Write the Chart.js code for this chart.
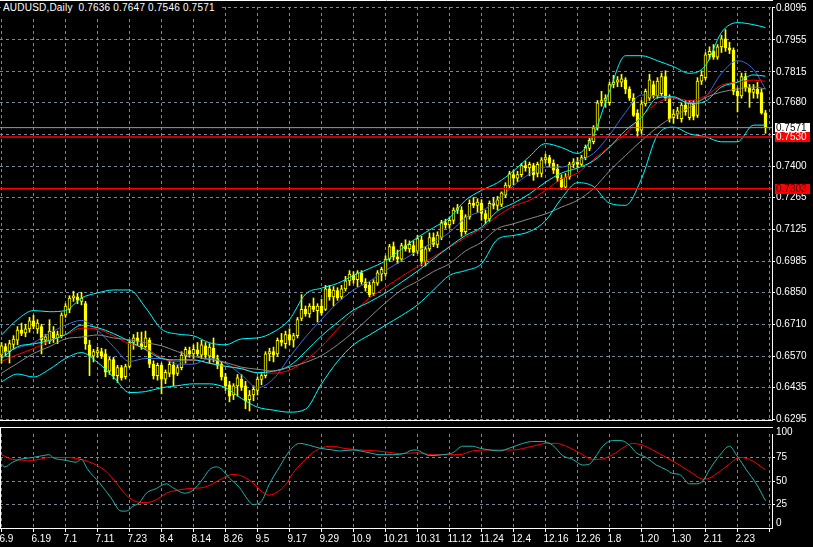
<!DOCTYPE html>
<html><head><meta charset="utf-8">
<script src="https://cdn.jsdelivr.net/npm/chart.js@4.4.1/dist/chart.umd.min.js"></script>
<style>
html,body{margin:0;padding:0;background:#000;width:813px;height:547px;overflow:hidden}
#wrap{position:relative;width:813px;height:547px;background:#000}
#main{position:absolute;left:0;top:0}
#stoch{position:absolute;left:0;top:427px}
#title{position:absolute;left:1px;top:1px;padding:1px 4px 3px 2px;background:#000;color:#fff;font:10px 'Liberation Sans',Arial,sans-serif;letter-spacing:0.2px;white-space:pre;line-height:12px}
</style></head><body>
<div id="wrap">
<canvas id="main" width="813" height="427" style="width:813px;height:427px"></canvas>
<canvas id="stoch" width="813" height="120" style="width:813px;height:120px"></canvas>
<div id="title"></div>
</div>
<script>
const symbolName = 'AUDUSD';
const timeframe = 'Daily';
const dateLabels = ['6.9','6.19','7.1','7.11','7.23','8.4','8.14','8.26','9.5','9.17','9.29','10.9','10.21','10.31','11.12','11.24','12.4','12.16','12.26','1.8','1.20','1.30','2.11','2.23'];
const gridBars = [0,8,16,24,32,40,48,56,64,72,80,88,96,104,112,120,128,136,144,152,160,168,176,184,192];
const priceTicks = [0.8095,0.7955,0.7815,0.7680,0.7540,0.7400,0.7265,0.7125,0.6985,0.6850,0.6710,0.6570,0.6435,0.6295];
const priceTickLabels = ['0.8095','0.7955','0.7815','0.7680','','0.7400','0.7265','0.7125','0.6985','0.6850','0.6710','0.6570','0.6435','0.6295'];
const stochTicks = [0,25,50,75,100];

const opens = [0.6575,0.6612,0.6590,0.6622,0.6640,0.6685,0.6672,0.6690,0.6725,0.6690,0.6700,0.6640,0.6635,0.6680,0.6650,0.6660,0.6750,0.6775,0.6825,0.6830,
0.6810,0.6800,0.6620,0.6570,0.6585,0.6590,0.6580,0.6505,0.6555,0.6485,0.6520,0.6480,0.6525,0.6630,0.6650,0.6625,0.6612,0.6640,0.6535,0.6485,
0.6530,0.6470,0.6495,0.6530,0.6495,0.6520,0.6570,0.6595,0.6580,0.6598,0.6575,0.6615,0.6570,0.6605,0.6560,0.6535,0.6480,0.6445,0.6400,0.6440,
0.6470,0.6440,0.6380,0.6400,0.6420,0.6468,0.6485,0.6580,0.6590,0.6580,0.6640,0.6625,0.6665,0.6640,0.6660,0.6735,0.6775,0.6755,0.6790,0.6770,
0.6790,0.6775,0.6865,0.6830,0.6858,0.6830,0.6865,0.6900,0.6925,0.6905,0.6935,0.6895,0.6880,0.6845,0.6890,0.6930,0.6930,0.6995,0.7050,0.7005,
0.6995,0.7055,0.7040,0.7055,0.7030,0.7080,0.6985,0.7040,0.7090,0.7060,0.7090,0.7155,0.7145,0.7165,0.7210,0.7210,0.7115,0.7180,0.7240,0.7230,
0.7240,0.7195,0.7170,0.7240,0.7230,0.7235,0.7275,0.7315,0.7365,0.7350,0.7365,0.7405,0.7395,0.7405,0.7370,0.7370,0.7430,0.7440,0.7415,0.7390,
0.7350,0.7310,0.7355,0.7410,0.7420,0.7410,0.7440,0.7480,0.7510,0.7570,0.7680,0.7690,0.7680,0.7760,0.7770,0.7770,0.7780,0.7740,0.7700,0.7635,
0.7560,0.7675,0.7700,0.7760,0.7710,0.7720,0.7795,0.7700,0.7615,0.7630,0.7610,0.7670,0.7615,0.7675,0.7625,0.7775,0.7790,0.7890,0.7905,0.7880,
0.7925,0.7960,0.7920,0.7910,0.7730,0.7710,0.7795,0.7745,0.7725,0.7740,0.7725,0.7636];
const highs = [0.6630,0.6625,0.6640,0.6660,0.6700,0.6715,0.6710,0.6740,0.6750,0.6730,0.6710,0.6665,0.6730,0.6700,0.6680,0.6760,0.6800,0.6835,0.6855,0.6845,
0.6850,0.6810,0.6640,0.6600,0.6610,0.6605,0.6600,0.6565,0.6565,0.6530,0.6530,0.6535,0.6640,0.6665,0.6675,0.6676,0.6680,0.6650,0.6550,0.6540,
0.6540,0.6510,0.6550,0.6545,0.6530,0.6590,0.6610,0.6610,0.6620,0.6630,0.6640,0.6630,0.6625,0.6650,0.6575,0.6545,0.6495,0.6460,0.6450,0.6490,
0.6490,0.6460,0.6420,0.6440,0.6480,0.6500,0.6590,0.6605,0.6610,0.6650,0.6670,0.6680,0.6690,0.6670,0.6740,0.6840,0.6790,0.6800,0.6825,0.6800,
0.6820,0.6880,0.6880,0.6875,0.6870,0.6880,0.6920,0.6945,0.6940,0.6945,0.6945,0.6910,0.6895,0.6905,0.6945,0.6960,0.7010,0.7060,0.7070,0.7035,
0.7065,0.7080,0.7075,0.7075,0.7100,0.7095,0.7050,0.7110,0.7110,0.7115,0.7165,0.7170,0.7180,0.7220,0.7235,0.7225,0.7190,0.7255,0.7265,0.7260,
0.7255,0.7210,0.7250,0.7265,0.7270,0.7290,0.7330,0.7380,0.7385,0.7380,0.7415,0.7425,0.7420,0.7415,0.7420,0.7440,0.7455,0.7450,0.7430,0.7410,
0.7365,0.7370,0.7420,0.7435,0.7440,0.7450,0.7495,0.7525,0.7580,0.7690,0.7730,0.7715,0.7770,0.7800,0.7795,0.7805,0.7790,0.7750,0.7720,0.7650,
0.7690,0.7740,0.7805,0.7775,0.7790,0.7810,0.7820,0.7715,0.7650,0.7660,0.7680,0.7690,0.7690,0.7690,0.7790,0.7820,0.7900,0.7925,0.7935,0.7935,
0.7975,0.8000,0.7945,0.7920,0.7745,0.7810,0.7810,0.7760,0.7760,0.7770,0.7740,0.7647];
const lows = [0.6540,0.6570,0.6540,0.6600,0.6620,0.6660,0.6655,0.6675,0.6690,0.6670,0.6580,0.6620,0.6625,0.6630,0.6625,0.6650,0.6740,0.6760,0.6810,0.6800,
0.6795,0.6600,0.6485,0.6545,0.6565,0.6560,0.6480,0.6490,0.6470,0.6455,0.6465,0.6470,0.6520,0.6600,0.6620,0.6600,0.6600,0.6520,0.6470,0.6465,
0.6405,0.6450,0.6480,0.6440,0.6485,0.6510,0.6540,0.6565,0.6560,0.6570,0.6560,0.6560,0.6540,0.6545,0.6515,0.6465,0.6420,0.6370,0.6380,0.6395,
0.6420,0.6340,0.6330,0.6375,0.6400,0.6445,0.6475,0.6550,0.6545,0.6570,0.6615,0.6605,0.6620,0.6610,0.6650,0.6725,0.6745,0.6740,0.6765,0.6720,
0.6750,0.6770,0.6815,0.6790,0.6815,0.6820,0.6855,0.6880,0.6890,0.6875,0.6885,0.6855,0.6830,0.6835,0.6880,0.6900,0.6920,0.6985,0.6990,0.6975,
0.6985,0.7030,0.7025,0.7010,0.7020,0.6965,0.6965,0.7030,0.7050,0.7045,0.7080,0.7130,0.7130,0.7150,0.7195,0.7095,0.7105,0.7170,0.7220,0.7200,
0.7165,0.7150,0.7160,0.7215,0.7210,0.7225,0.7265,0.7305,0.7320,0.7335,0.7355,0.7380,0.7360,0.7340,0.7355,0.7355,0.7415,0.7400,0.7370,0.7335,
0.7300,0.7300,0.7345,0.7395,0.7395,0.7405,0.7430,0.7470,0.7500,0.7560,0.7665,0.7660,0.7670,0.7745,0.7750,0.7750,0.7720,0.7690,0.7620,0.7530,
0.7545,0.7665,0.7690,0.7700,0.7700,0.7710,0.7690,0.7595,0.7590,0.7610,0.7595,0.7625,0.7605,0.7605,0.7615,0.7760,0.7780,0.7870,0.7870,0.7870,
0.7900,0.7905,0.7895,0.7715,0.7640,0.7700,0.7730,0.7660,0.7700,0.7700,0.7630,0.7546];
const closes = [0.6615,0.6590,0.6625,0.6645,0.6685,0.6670,0.6690,0.6725,0.6700,0.6715,0.6640,0.6655,0.6680,0.6650,0.6665,0.6750,0.6790,0.6825,0.6835,0.6815,
0.6825,0.6625,0.6570,0.6590,0.6595,0.6570,0.6500,0.6555,0.6485,0.6520,0.6475,0.6525,0.6630,0.6650,0.6635,0.6610,0.6650,0.6535,0.6485,0.6530,
0.6470,0.6500,0.6535,0.6490,0.6520,0.6575,0.6600,0.6580,0.6600,0.6580,0.6620,0.6575,0.6610,0.6560,0.6530,0.6480,0.6440,0.6395,0.6440,0.6475,
0.6435,0.6375,0.6400,0.6425,0.6470,0.6485,0.6580,0.6590,0.6575,0.6640,0.6630,0.6665,0.6640,0.6660,0.6730,0.6775,0.6755,0.6790,0.6775,0.6790,
0.6760,0.6865,0.6830,0.6860,0.6825,0.6865,0.6900,0.6930,0.6905,0.6935,0.6895,0.6870,0.6840,0.6895,0.6935,0.6950,0.6995,0.7050,0.7005,0.6995,
0.7055,0.7040,0.7060,0.7025,0.7085,0.6985,0.7040,0.7090,0.7060,0.7100,0.7155,0.7145,0.7165,0.7210,0.7220,0.7115,0.7180,0.7240,0.7230,0.7245,
0.7195,0.7170,0.7240,0.7230,0.7255,0.7285,0.7320,0.7370,0.7350,0.7365,0.7405,0.7395,0.7410,0.7365,0.7410,0.7430,0.7440,0.7415,0.7385,0.7350,
0.7310,0.7355,0.7410,0.7420,0.7410,0.7440,0.7485,0.7515,0.7570,0.7680,0.7690,0.7700,0.7760,0.7770,0.7780,0.7785,0.7740,0.7700,0.7625,0.7555,
0.7675,0.7730,0.7780,0.7710,0.7775,0.7795,0.7700,0.7610,0.7630,0.7645,0.7670,0.7640,0.7680,0.7620,0.7775,0.7800,0.7890,0.7905,0.7880,0.7925,
0.7960,0.7920,0.7910,0.7730,0.7710,0.7795,0.7745,0.7725,0.7740,0.7720,0.7636,0.7571];

const lineBars = [0,4,8,12,16,20,24,28,32,36,40,44,48,52,56,60,64,68,72,76,80,84,88,92,96,100,104,108,112,116,120,124,128,132,136,140,144,148,152,156,160,164,168,172,176,180,184,188,191];
const bbUpper = [0.6663,0.6731,0.6770,0.6765,0.6770,0.6825,0.6847,0.6860,0.6860,0.6783,0.6689,0.6667,0.6659,0.6629,0.6620,0.6646,0.6650,0.6676,0.6731,0.6842,0.6868,0.6889,0.6924,0.6954,0.6988,0.7039,0.7090,0.7133,0.7176,0.7253,0.7296,0.7330,0.7381,0.7445,0.7501,0.7484,0.7458,0.7539,0.7732,0.7886,0.7886,0.7864,0.7838,0.7809,0.7843,0.7988,0.8031,0.8022,0.8009];
const bbMiddle = [0.6560,0.6612,0.6624,0.6639,0.6665,0.6706,0.6695,0.6669,0.6635,0.6599,0.6560,0.6554,0.6554,0.6539,0.6526,0.6515,0.6498,0.6505,0.6528,0.6590,0.6659,0.6718,0.6772,0.6808,0.6847,0.6894,0.6943,0.6996,0.7050,0.7099,0.7135,0.7206,0.7240,0.7281,0.7332,0.7372,0.7394,0.7426,0.7486,0.7559,0.7616,0.7702,0.7706,0.7676,0.7687,0.7749,0.7770,0.7802,0.7796];
const bbLower = [0.6458,0.6492,0.6479,0.6513,0.6560,0.6586,0.6543,0.6479,0.6411,0.6415,0.6432,0.6441,0.6449,0.6449,0.6432,0.6385,0.6347,0.6334,0.6325,0.6338,0.6449,0.6547,0.6620,0.6663,0.6706,0.6748,0.6795,0.6860,0.6924,0.6945,0.6975,0.7082,0.7099,0.7116,0.7163,0.7261,0.7330,0.7313,0.7240,0.7231,0.7347,0.7539,0.7573,0.7544,0.7531,0.7509,0.7509,0.7582,0.7582];
const maRed = [0.6547,0.6577,0.6603,0.6637,0.6663,0.6693,0.6689,0.6659,0.6624,0.6603,0.6565,0.6547,0.6552,0.6539,0.6526,0.6517,0.6496,0.6496,0.6509,0.6552,0.6612,0.6689,0.6761,0.6825,0.6872,0.6919,0.6962,0.7005,0.7048,0.7090,0.7129,0.7184,0.7227,0.7253,0.7296,0.7347,0.7372,0.7432,0.7488,0.7544,0.7620,0.7680,0.7702,0.7689,0.7710,0.7757,0.7770,0.7779,0.7774];
const maBlue = [0.6582,0.6607,0.6629,0.6671,0.6706,0.6727,0.6684,0.6612,0.6547,0.6560,0.6560,0.6535,0.6535,0.6560,0.6539,0.6488,0.6432,0.6471,0.6565,0.6654,0.6731,0.6804,0.6860,0.6898,0.6945,0.6988,0.7031,0.7069,0.7112,0.7176,0.7206,0.7253,0.7317,0.7368,0.7398,0.7398,0.7424,0.7458,0.7539,0.7638,0.7714,0.7710,0.7702,0.7680,0.7706,0.7809,0.7864,0.7826,0.7740];
const maGray = [0.6496,0.6539,0.6582,0.6612,0.6646,0.6654,0.6663,0.6650,0.6642,0.6629,0.6616,0.6590,0.6569,0.6556,0.6543,0.6522,0.6513,0.6505,0.6522,0.6543,0.6573,0.6620,0.6676,0.6740,0.6804,0.6860,0.6898,0.6941,0.6975,0.7031,0.7069,0.7129,0.7150,0.7172,0.7193,0.7223,0.7253,0.7304,0.7381,0.7449,0.7514,0.7573,0.7620,0.7659,0.7702,0.7727,0.7740,0.7749,0.7740];

const levelPrices = [0.7530, 0.7303];

const stochKBars = [0,0.8,2.8,4.5,7.8,10.3,12,12.8,16.2,18.7,19.9,21.6,24.5,27.4,29.9,31.2,32.8,34.5,36.2,38.7,41.2,42.8,45.8,47.8,50.3,52,53.7,54.9,57,59.5,61.6,62.8,64.9,67,69.5,72,74.5,77,79.5,82.8,84.5,87.8,92,94.5,97.8,101.2,102,103.7,105.3,107,110.3,112.8,115.3,117.8,119.5,122,124.5,127,130.3,132.8,135.3,137.8,140.3,142.8,145.3,147,148.7,150.3,152.8,154.9,157,158.7,161.2,163.7,166.2,167.8,169.5,172,173.7,175.3,177,179.5,182,183.7,186.2,188.7,191];
const stochK = [68,65,70,73,75,77,78,75,72,70,73,62,48,32,18,18,23,27,37,42,47,43,37,40,52,62,65,63,53,43,30,25,28,47,65,82,90,88,85,83,82,83,80,78,78,80,82,83,80,77,78,80,87,87,85,83,82,85,90,92,92,88,77,73,67,68,77,87,93,93,88,80,75,67,62,58,57,47,47,50,62,77,87,78,62,47,29];
const stochDBars = [0,2.8,7.8,12,16.2,19.9,23.7,26.2,28.7,31.2,33.7,36.2,38.7,41.2,43.7,47,50.3,52.8,55.3,57.8,60.3,62.8,65.3,67,69.5,71.2,72.8,75.3,77.8,79.9,82.8,85.3,89.5,93.7,97.8,99.5,103.7,107.8,114.5,117.8,122.8,127.8,132.8,136.2,138.7,141.2,144.5,147.8,149.5,152.8,155.3,157.8,160.3,162.8,166.2,169.5,172.8,175.3,177,179.5,182,184.5,187,191];
const stochD = [78,73,72,75,75,73,67,60,48,35,28,27,30,37,40,42,43,47,53,57,55,48,38,35,40,47,58,70,80,85,87,85,83,82,80,79,80,78,78,82,83,83,87,90,90,87,80,73,73,78,85,90,88,83,75,67,58,52,53,60,68,75,73,62];

// ---- presentation ----
const FONT = "'Liberation Sans', Arial, sans-serif";
Chart.defaults.font.family = FONT;
Chart.defaults.font.size = 10;
Chart.defaults.color = '#ffffff';
const GRID = '#778899';
const DASH = [3,3];
const X_MIN = -0.375, X_MAX = 192.625;
const Y_MIN = 0.62907, Y_MAX = 0.80993;

const last = closes.length - 1;
document.getElementById('title').textContent =
  symbolName + ',' + timeframe + '  ' + [opens[last], highs[last], lows[last], closes[last]].map(v => v.toFixed(4)).join(' ');

const pts = (xs, ys) => xs.map((x, k) => ({x: x, y: ys[k]}));
const flat = v => [{x: X_MIN, y: v}, {x: X_MAX, y: v}];
const lineDs = (data, color, width) => ({type: 'line', data: data, borderColor: color, borderWidth: width || 1, pointRadius: 0, cubicInterpolationMode: 'monotone', fill: false, order: 0});

const bodies = opens.map((o, i) => ({x: i, y: [o, closes[i]]}));
const wicks = highs.map((h, i) => ({x: i, y: [lows[i], h]}));

const mainPlugin = {
  id: 'mainDecor',
  afterDraw(chart) {
    const ctx = chart.ctx, ys = chart.scales.y, ca = chart.chartArea;
    ctx.save();
    ctx.strokeStyle = '#ffffff'; ctx.lineWidth = 1;
    ctx.beginPath(); ctx.moveTo(0, 0.5); ctx.lineTo(ca.right + 1, 0.5); ctx.stroke();
    const boxes = [[closes[last], '#ffffff', '#000000'], [levelPrices[0], '#ff0000', '#ffffff'], [levelPrices[1], '#ff0000', '#400000']];
    ctx.font = '10px ' + FONT; ctx.textBaseline = 'middle'; ctx.textAlign = 'left';
    boxes.forEach(([v, bg, fg]) => {
      const y = Math.round(ys.getPixelForValue(v));
      ctx.fillStyle = bg; ctx.fillRect(775, y - 5, 35, 10);
      ctx.fillStyle = fg; ctx.fillText(v.toFixed(4), 776, y + 0.5);
    });
    ctx.restore();
  }
};

new Chart(document.getElementById('main'), {
  type: 'line',
  data: {
    datasets: [
      lineDs(flat(closes[last]), '#8c9aa8'),
      lineDs(flat(levelPrices[0]), '#ff0000', 1.5),
      lineDs(flat(levelPrices[1]), '#ff0000', 1.5),
      lineDs(pts(lineBars, bbUpper), '#00ffff'),
      lineDs(pts(lineBars, bbLower), '#00ffff'),
      lineDs(pts(lineBars, maGray), '#8a8a8a'),
      lineDs(pts(lineBars, bbMiddle), '#00ffff'),
      lineDs(pts(lineBars, maRed), '#ff0000'),
      lineDs(pts(lineBars, maBlue), '#4169e1'),
      {type: 'bar', data: wicks, grouped: false, barThickness: 1, backgroundColor: '#ffff00', borderWidth: 0, order: 2},
      {type: 'bar', data: bodies, grouped: false, barThickness: 3, minBarLength: 1,
       backgroundColor: c => (closes[c.dataIndex] >= opens[c.dataIndex] ? '#000000' : '#ffff00'),
       borderColor: '#ffff00', borderWidth: 1, borderSkipped: false, order: 1}
    ]
  },
  options: {
    responsive: false, animation: false, events: [],
    layout: {padding: {top: 2, left: 0, right: 0, bottom: 0}},
    plugins: {legend: {display: false}, tooltip: {enabled: false}, title: {display: false}},
    scales: {
      x: {type: 'linear', min: X_MIN, max: X_MAX, offset: false, position: 'bottom',
          afterBuildTicks: s => { s.ticks = gridBars.map(v => ({value: v})); },
          afterFit: s => { s.height = 2; },
          ticks: {display: false},
          grid: {color: GRID, lineWidth: 1, drawTicks: false, offset: false},
          border: {display: true, color: '#ffffff', dash: DASH}},
      y: {type: 'linear', position: 'right', min: Y_MIN, max: Y_MAX, beginAtZero: false,
          afterBuildTicks: s => { s.ticks = priceTicks.map(v => ({value: v})); },
          afterFit: s => { s.width = 41; },
          ticks: {color: '#ffffff', padding: 1, autoSkip: false, callback: (v, i) => priceTickLabels[i]},
          grid: {color: GRID, tickColor: '#ffffff', tickLength: 3, drawTicks: true},
          border: {display: true, color: '#ffffff', dash: DASH}}
    }
  },
  plugins: [mainPlugin]
});

const stochPlugin = {
  id: 'stochDecor',
  afterDraw(chart) {
    const ctx = chart.ctx, ca = chart.chartArea;
    ctx.save();
    ctx.strokeStyle = '#ffffff'; ctx.lineWidth = 1;
    ctx.beginPath(); ctx.moveTo(0, 0.5); ctx.lineTo(ca.right + 1, 0.5); ctx.stroke();
    ctx.beginPath(); ctx.moveTo(0.5, 0); ctx.lineTo(0.5, ca.bottom); ctx.stroke();
    ctx.fillStyle = '#ffffff'; ctx.font = '10px ' + FONT; ctx.textBaseline = 'middle'; ctx.textAlign = 'left';
    ctx.fillText(String(stochTicks[4]), 776, 5.5);
    ctx.fillText(String(stochTicks[0]), 776, 96.5);
    ctx.restore();
  }
};

new Chart(document.getElementById('stoch'), {
  type: 'line',
  data: {
    datasets: [
      lineDs(pts(stochKBars, stochK), '#20b2aa'),
      lineDs(pts(stochDBars, stochD), '#ff0000')
    ]
  },
  options: {
    responsive: false, animation: false, events: [],
    layout: {padding: {top: 1, left: 0, right: 0, bottom: 0}},
    plugins: {legend: {display: false}, tooltip: {enabled: false}},
    scales: {
      x: {type: 'linear', min: X_MIN, max: X_MAX, offset: false, position: 'bottom',
          afterBuildTicks: s => { s.ticks = gridBars.map(v => ({value: v})); },
          afterFit: s => { s.height = 19; },
          ticks: {color: '#ffffff', align: 'start', labelOffset: -2, padding: 1, autoSkip: false, maxRotation: 0, minRotation: 0,
                  callback: (v, i) => (dateLabels[i] !== undefined ? dateLabels[i] : '')},
          grid: {color: GRID, tickColor: '#ffffff', tickLength: 4, drawTicks: true, offset: false},
          border: {display: true, color: '#ffffff', dash: DASH}},
      y: {type: 'linear', position: 'right', min: 0, max: 100,
          afterBuildTicks: s => { s.ticks = stochTicks.map(v => ({value: v})); },
          afterFit: s => { s.width = 41; },
          ticks: {color: '#ffffff', padding: 1, autoSkip: false, callback: v => ((v === 0 || v === 100) ? '' : String(v))},
          grid: {color: c => ((c.tick && (c.tick.value === 0 || c.tick.value === 100)) ? 'rgba(0,0,0,0)' : GRID),
                 tickColor: c => ((c.tick && (c.tick.value === 0 || c.tick.value === 100)) ? 'rgba(0,0,0,0)' : '#ffffff'),
                 tickLength: 3, drawTicks: true},
          border: {display: true, color: '#ffffff', dash: DASH}}
    }
  },
  plugins: [stochPlugin]
});
</script>
</body></html>
